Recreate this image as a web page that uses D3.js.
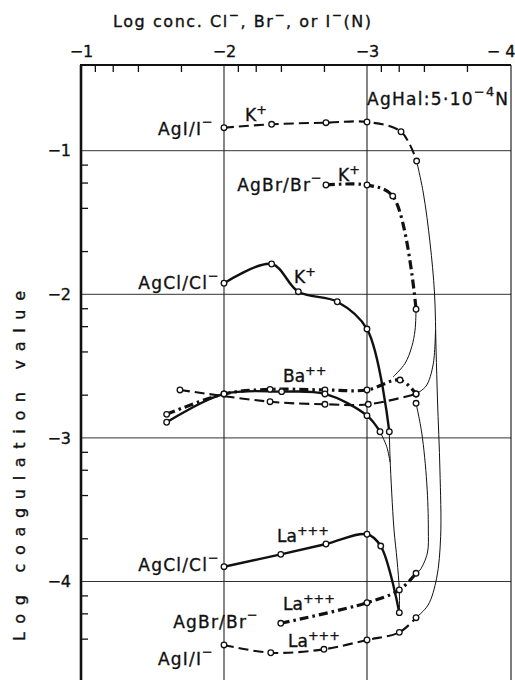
<!DOCTYPE html>
<html>
<head>
<meta charset="utf-8">
<script src="https://cdn.jsdelivr.net/npm/d3@7"></script>
<style>
  body { margin: 0; background: #fff; }
  text { font-family: "DejaVu Sans", sans-serif; fill: #111; stroke: #111; stroke-width: 0.35px; }
</style>
</head>
<body>
<script>
// ---- axis ticks -------------------------------------------------------
const xMajor = [-1, -2, -3, -4];
const xMajorLabels = ["−1", "−2", "−3", "− 4"];
const yMajor = [-1, -2, -3, -4];
const yMajorLabels = ["−1", "−2", "−3", "−4"];
const minorMantissas = [2, 4, 6, 8];          // minor ticks at 2,4,6,8 × 10^n
const minorDecades = [-1, -2, -3, -4, -5];

// ---- series: [log conc. halide, log coagulation value] ----------------
// K+ curves
const agiK  = [[-2.0, -0.84], [-2.333, -0.816], [-2.713, -0.805], [-3.0, -0.80], [-3.238, -0.868], [-3.347, -1.072]];
const agbrK = [[-2.713, -1.239], [-3.0, -1.239], [-3.18, -1.316], [-3.343, -2.104]];
const agclK = [[-2.0, -1.923], [-2.333, -1.789], [-2.52, -1.982], [-2.792, -2.052], [-3.0, -2.242], [-3.156, -2.957]];
// Ba++ curves
const agiBa  = [[-1.692, -2.666], [-2.322, -2.748], [-2.706, -2.766], [-3.009, -2.766], [-3.343, -2.694]];
const agbrBa = [[-1.599, -2.836], [-2.0, -2.694], [-2.322, -2.662], [-2.706, -2.666], [-3.0, -2.666], [-3.231, -2.597], [-3.343, -2.694]];
const agclBa = [[-1.599, -2.891], [-2.0, -2.694], [-2.403, -2.678], [-2.706, -2.694], [-3.0, -2.845], [-3.091, -2.957]];
// La+++ curves
const agiLa  = [[-2.0, -4.442], [-2.327, -4.496], [-2.699, -4.472], [-3.0, -4.407], [-3.226, -4.354], [-3.343, -4.252]];
const agbrLa = [[-2.397, -4.291], [-3.0, -4.148], [-3.226, -4.059], [-3.343, -3.943]];
const agclLa = [[-2.0, -3.897], [-2.397, -3.811], [-2.713, -3.739], [-3.0, -3.671], [-3.096, -3.753], [-3.226, -4.217]];

// thin connecting curves near the lowest halide concentrations
const agiLink   = [[-3.347, -1.072], [-3.394, -1.295], [-3.441, -1.643], [-3.472, -1.991], [-3.483, -2.388], [-3.493, -2.736],
                   [-3.510, -3.224], [-3.515, -3.688], [-3.487, -3.976], [-3.427, -4.164], [-3.343, -4.252]];
const agiBaLink = [[-3.343, -2.694], [-3.413, -2.639], [-3.462, -2.492], [-3.479, -2.249]];
const agbrLinkA = [[-3.343, -2.104], [-3.336, -2.249], [-3.313, -2.365], [-3.266, -2.481], [-3.182, -2.576]];
const agbrLinkB = [[-3.343, -2.759], [-3.383, -2.966], [-3.418, -3.314], [-3.429, -3.641], [-3.422, -3.802], [-3.371, -3.920], [-3.343, -3.943]];
const agclLink  = [[-3.156, -2.957], [-3.161, -3.133], [-3.173, -3.384], [-3.189, -3.641], [-3.210, -3.850], [-3.226, -4.059], [-3.226, -4.217]];
const agclBaLink = [[-3.091, -2.957], [-3.138, -3.061], [-3.161, -3.168]];
const extraPoints = [[-3.343, -2.759]];

// ---- layout ------------------------------------------------------------
const W = 515, H = 680;
const plot = { left: 81, right: 510, top: 65, bottom: 700 };

const svg = d3.select("body").append("svg")
  .attr("width", W).attr("height", H)
  .attr("viewBox", `0 0 ${W} ${H}`);

const x = d3.scaleLinear().domain([-1, -4]).range([plot.left, plot.right]);
const y = d3.scaleLinear().domain([-1, -4]).range([150.7, 581.5]);

const ink = "#111";

// minor tick values: log10(m · 10^(dec-1))
const minor = [];
minorDecades.forEach(dec => minorMantissas.forEach(m => minor.push(dec - 1 + Math.log10(m))));
const xMinor = minor.filter(v => v < -1 && v > -4);
const yMinor = minor.filter(v => y(v) > plot.top + 1 && y(v) < plot.bottom);

// grid lines
const grid = svg.append("g");
grid.selectAll("line.h").data(yMajor).join("line")
  .attr("x1", plot.left).attr("x2", plot.right + 1)
  .attr("y1", d => y(d)).attr("y2", d => y(d))
  .attr("stroke", "#333").attr("stroke-width", 1);
grid.selectAll("line.v").data([-2, -3]).join("line")
  .attr("x1", d => x(d)).attr("x2", d => x(d))
  .attr("y1", plot.top).attr("y2", plot.bottom)
  .attr("stroke", "#222").attr("stroke-width", 1.1);

// top axis (minor ticks pointing inwards)
const topAxis = d3.axisTop(x).tickValues(xMinor).tickSize(-7).tickFormat("");
const gTop = svg.append("g").attr("transform", `translate(0,${plot.top})`).call(topAxis);
gTop.select(".domain").remove();
gTop.selectAll(".tick line").attr("stroke", ink).attr("stroke-width", 1.3);

const topLabels = d3.axisTop(x).tickValues(xMajor).tickSize(0).tickPadding(8)
  .tickFormat((d, i) => xMajorLabels[i]);
const gTopL = svg.append("g").attr("transform", `translate(0,${plot.top})`).call(topLabels);
gTopL.select(".domain").remove();
gTopL.selectAll("text").attr("font-size", 16).attr("fill", ink)
  .style("font-family", '"DejaVu Sans", sans-serif')
  .attr("text-anchor", (d, i) => i === xMajor.length - 1 ? "end" : "middle")
  .attr("dx", (d, i) => i === xMajor.length - 1 ? 5 : 0);

// left axis
const leftAxis = d3.axisLeft(y).tickValues(yMinor).tickSize(-7).tickFormat("");
const gLeft = svg.append("g").attr("transform", `translate(${plot.left},0)`).call(leftAxis);
gLeft.select(".domain").remove();
gLeft.selectAll(".tick line").attr("stroke", ink).attr("stroke-width", 1.3);

const leftLabels = d3.axisLeft(y).tickValues(yMajor).tickSize(0).tickPadding(10)
  .tickFormat((d, i) => yMajorLabels[i]);
const gLeftL = svg.append("g").attr("transform", `translate(${plot.left},0)`).call(leftLabels);
gLeftL.select(".domain").remove();
gLeftL.selectAll("text").attr("font-size", 16).attr("fill", ink)
  .style("font-family", '"DejaVu Sans", sans-serif');

// frame
svg.append("line").attr("x1", plot.left - 1).attr("x2", plot.right + 1)
  .attr("y1", plot.top).attr("y2", plot.top).attr("stroke", ink).attr("stroke-width", 2.2);
svg.append("line").attr("x1", plot.left).attr("x2", plot.left)
  .attr("y1", plot.top).attr("y2", plot.bottom).attr("stroke", ink).attr("stroke-width", 2.6);
svg.append("line").attr("x1", plot.right + 1).attr("x2", plot.right + 1)
  .attr("y1", plot.top).attr("y2", plot.bottom).attr("stroke", ink).attr("stroke-width", 1.1);

// ---- curves ------------------------------------------------------------
const line = d3.line().x(d => x(d[0])).y(d => y(d[1])).curve(d3.curveCatmullRom.alpha(0.5));

const styles = {
  dashed:  { w: 2.1, dash: "10,5" },
  dashdot: { w: 3.2, dash: "9,4,2.5,4" },
  solid:   { w: 2.4, dash: null },
  thin:    { w: 1.0, dash: null }
};

const curves = [
  [agiLink, "thin"], [agiBaLink, "thin"], [agbrLinkA, "thin"], [agbrLinkB, "thin"],
  [agclLink, "thin"], [agclBaLink, "thin"],
  [agiK, "dashed"], [agbrK, "dashdot"], [agclK, "solid"],
  [agiBa, "dashed"], [agbrBa, "dashdot"], [agclBa, "solid"],
  [agiLa, "dashed"], [agbrLa, "dashdot"], [agclLa, "solid"]
];

const gCurves = svg.append("g").attr("fill", "none").attr("stroke", ink).attr("stroke-linecap", "butt");
curves.forEach(([pts, st]) => {
  const s = styles[st];
  gCurves.append("path").attr("d", line(pts))
    .attr("stroke-width", s.w)
    .attr("stroke-dasharray", s.dash);
});

// open circle markers on measured points
const markerSets = [agiK, agbrK, agclK, agiBa, agbrBa, agclBa, agiLa, agbrLa, agclLa, extraPoints];
const gMarks = svg.append("g");
markerSets.forEach(pts => {
  gMarks.selectAll(null).data(pts).join("circle")
    .attr("cx", d => x(d[0])).attr("cy", d => y(d[1])).attr("r", 2.8)
    .attr("fill", "#fff").attr("stroke", ink).attr("stroke-width", 1.3);
});

// ---- text --------------------------------------------------------------
// "^{...}" marks a superscript run
function rich(g, str, opts) {
  const size = opts.size || 16;
  const t = g.append("text")
    .attr("x", opts.x).attr("y", opts.y)
    .attr("font-size", size)
    .attr("text-anchor", opts.anchor || "start");
  if (opts.spacing) t.attr("letter-spacing", opts.spacing);
  if (opts.transform) t.attr("transform", opts.transform);
  if (opts.length) t.attr("textLength", opts.length).attr("lengthAdjust", "spacing");
  const re = /\^\{([^}]*)\}/g;
  let last = 0, m, shift = 0;
  while ((m = re.exec(str)) !== null) {
    if (m.index > last) {
      t.append("tspan").attr("dy", shift ? shift : null).text(str.slice(last, m.index));
      shift = 0;
    }
    const raise = (m[1].includes("−") ? 0.52 : 0.42) * size;
    t.append("tspan").attr("dy", -raise).attr("font-size", size * 0.75).text(m[1]);
    shift = raise;
    last = re.lastIndex;
  }
  if (last < str.length) t.append("tspan").attr("dy", shift ? shift : null).text(str.slice(last));
  return t;
}

const gText = svg.append("g");
rich(gText, "Log  conc. Cl^{−}, Br^{−}, or I^{−}(N)", { x: 242, y: 27, size: 16, anchor: "middle", length: 258 });
rich(gText, "Log  coagulation  value", { x: 0, y: 0, size: 16, anchor: "middle", length: 350,
  transform: "translate(25,466) rotate(-90)" });

const LS = 17, SP = 1.2;
rich(gText, "AgHal:5·10^{−4}N", { x: 367, y: 105, size: LS, spacing: 1.3 });

rich(gText, "AgI/I^{−}", { x: x(-2) - 10, y: 135, size: LS, anchor: "end", spacing: SP });
rich(gText, "K^{+}", { x: 245, y: 121, size: LS });
rich(gText, "AgBr/Br^{−}", { x: 323, y: 191, size: LS, anchor: "end", spacing: SP });
rich(gText, "K^{+}", { x: 338, y: 181, size: LS });
rich(gText, "AgCl/Cl^{−}", { x: x(-2) - 4, y: 289, size: LS, anchor: "end", spacing: SP });
rich(gText, "K^{+}", { x: 294, y: 283, size: LS });
rich(gText, "Ba^{++}", { x: 283, y: 382, size: LS });
rich(gText, "AgCl/Cl^{−}", { x: x(-2) - 4, y: 571, size: LS, anchor: "end", spacing: SP });
rich(gText, "La^{+++}", { x: 277, y: 542, size: LS });
rich(gText, "AgBr/Br^{−}", { x: 259, y: 628, size: LS, anchor: "end", spacing: SP });
rich(gText, "La^{+++}", { x: 283, y: 610, size: LS });
rich(gText, "AgI/I^{−}", { x: x(-2) - 10, y: 665, size: LS, anchor: "end", spacing: SP });
rich(gText, "La^{+++}", { x: 288, y: 647, size: LS });
</script>
</body>
</html>
